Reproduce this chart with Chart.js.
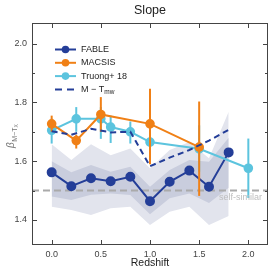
<!DOCTYPE html>
<html>
<head>
<meta charset="utf-8">
<script src="https://cdn.jsdelivr.net/npm/chart.js@4/dist/chart.umd.min.js"></script>
<style>
  html, body { margin: 0; padding: 0; background: #fff; }
  #wrap { width: 274px; height: 274px; }
</style>
</head>
<body>
<div id="wrap"><canvas id="slopeChart" width="274" height="274"></canvas></div>
<script>
// FABLE snapshots
var fableZ = [0.0, 0.2, 0.4, 0.6, 0.8, 1.0, 1.2, 1.4, 1.6, 1.8];
var fableSlope = [1.562, 1.515, 1.542, 1.532, 1.547, 1.464, 1.530, 1.568, 1.513, 1.630];
var fableOuterHi = [1.658, 1.604, 1.658, 1.620, 1.643, 1.576, 1.638, 1.665, 1.610, 1.768];
var fableOuterLo = [1.445, 1.434, 1.417, 1.440, 1.445, 1.383, 1.428, 1.445, 1.383, 1.414];
var fableInnerHi = [1.600, 1.562, 1.587, 1.564, 1.581, 1.513, 1.570, 1.604, 1.598, 1.680];
var fableInnerLo = [1.480, 1.468, 1.486, 1.490, 1.485, 1.420, 1.474, 1.490, 1.458, 1.510];

// mass-weighted temperature relation
var mwSlope = [1.702, 1.690, 1.710, 1.698, 1.700, 1.583, 1.612, 1.638, 1.670, 1.707];

// MACSIS
var macsisZ = [0.0, 0.25, 0.5, 1.0, 1.5];
var macsisSlope = [1.727, 1.670, 1.759, 1.727, 1.648];
var macsisLo = [1.700, 1.643, 1.700, 1.590, 1.482];
var macsisHi = [1.755, 1.690, 1.818, 1.846, 1.803];

// Truong+ 18
var truongZ = [0.0, 0.25, 0.5, 0.6, 0.8, 1.0, 1.5, 2.0];
var truongSlope = [1.705, 1.744, 1.744, 1.716, 1.700, 1.665, 1.642, 1.576];
var truongLo = [1.660, 1.700, 1.676, 1.662, 1.660, 1.592, 1.564, 1.475];
var truongHi = [1.745, 1.784, 1.784, 1.755, 1.735, 1.730, 1.722, 1.677];

var selfSimilar = 1.5;
var xTicks = [0.0, 0.5, 1.0, 1.5, 2.0];
var yTicks = [1.4, 1.6, 1.8, 2.0];
var yMinor = [1.5, 1.7, 1.9];

var BLUE = 'rgb(36,62,152)';
var ORANGE = 'rgb(240,128,22)';
var CYAN = 'rgb(92,196,222)';
var FONT = '"Liberation Sans", Arial, sans-serif';

function pts(xs, ys) {
  return xs.map(function (x, i) { return { x: x, y: ys[i] }; });
}

var datasets = [
  { data: pts(fableZ, fableOuterHi), fill: '+1', backgroundColor: 'rgb(226,228,237)', borderWidth: 0, pointRadius: 0, order: 20 },
  { data: pts(fableZ, fableOuterLo), fill: false, borderWidth: 0, pointRadius: 0, order: 20 },
  { data: pts(fableZ, fableInnerHi), fill: '+1', backgroundColor: 'rgb(201,205,221)', borderWidth: 0, pointRadius: 0, order: 19 },
  { data: pts(fableZ, fableInnerLo), fill: false, borderWidth: 0, pointRadius: 0, order: 19 },
  { data: [{ x: -0.2, y: selfSimilar }, { x: 2.2, y: selfSimilar }], borderColor: 'rgb(170,170,170)', borderWidth: 2, borderDash: [7, 4], pointRadius: 0, fill: false, order: 18 },
  { data: pts(fableZ, fableSlope), borderColor: BLUE, backgroundColor: BLUE, borderWidth: 2, pointRadius: 4, fill: false, order: 5 },
  { data: pts(truongZ, truongSlope), borderColor: CYAN, backgroundColor: CYAN, borderWidth: 2, pointRadius: 3.8, fill: false, order: 4,
    errLo: truongLo, errHi: truongHi },
  { data: pts(macsisZ, macsisSlope), borderColor: ORANGE, backgroundColor: ORANGE, borderWidth: 2, pointRadius: 3.8, fill: false, order: 3,
    errLo: macsisLo, errHi: macsisHi },
  { data: pts(fableZ, mwSlope), borderColor: BLUE, borderWidth: 2, borderDash: [6, 4], pointRadius: 0, fill: false, order: 2 }
];

var legendItems = [
  { text: 'FABLE', color: BLUE, marker: true },
  { text: 'MACSIS', color: ORANGE, marker: true },
  { text: 'Truong+ 18', color: CYAN, marker: true },
  { text: 'M \u2212 T', sub: 'mw', color: BLUE, dashed: true }
];

var decor = {
  id: 'decor',
  beforeDatasetDraw: function (chart, args) {
    var ds = chart.data.datasets[args.index];
    if (!ds.errLo) return;
    var ctx = chart.ctx, xs = chart.scales.x, ys = chart.scales.y;
    ctx.save();
    ctx.strokeStyle = ds.borderColor;
    ctx.lineWidth = 2;
    ds.data.forEach(function (p, i) {
      var px = xs.getPixelForValue(p.x);
      ctx.beginPath();
      ctx.moveTo(px, ys.getPixelForValue(ds.errLo[i]));
      ctx.lineTo(px, ys.getPixelForValue(ds.errHi[i]));
      ctx.stroke();
    });
    ctx.restore();
  },
  afterDraw: function (chart) {
    var ctx = chart.ctx, a = chart.chartArea, xs = chart.scales.x, ys = chart.scales.y;
    ctx.save();
    // frame and inward ticks
    ctx.strokeStyle = '#444';
    ctx.lineWidth = 1;
    ctx.strokeRect(a.left + 0.5, a.top + 0.5, a.right - a.left - 1, a.bottom - a.top - 1);
    ctx.beginPath();
    xTicks.forEach(function (v) {
      var px = Math.round(xs.getPixelForValue(v)) + 0.5;
      ctx.moveTo(px, a.bottom); ctx.lineTo(px, a.bottom - 5);
      ctx.moveTo(px, a.top); ctx.lineTo(px, a.top + 5);
    });
    yTicks.forEach(function (v) {
      var py = Math.round(ys.getPixelForValue(v)) + 0.5;
      ctx.moveTo(a.left, py); ctx.lineTo(a.left + 5, py);
      ctx.moveTo(a.right, py); ctx.lineTo(a.right - 5, py);
    });
    yMinor.forEach(function (v) {
      var py = Math.round(ys.getPixelForValue(v)) + 0.5;
      ctx.moveTo(a.left, py); ctx.lineTo(a.left + 3, py);
      ctx.moveTo(a.right, py); ctx.lineTo(a.right - 3, py);
    });
    ctx.stroke();

    // title and axis labels
    ctx.fillStyle = '#222';
    ctx.textAlign = 'center';
    ctx.textBaseline = 'middle';
    ctx.font = '12.5px ' + FONT;
    ctx.fillText('Slope', (a.left + a.right) / 2, 11);
    ctx.font = '10.5px ' + FONT;
    ctx.fillText('Redshift', (a.left + a.right) / 2, 263);

    // y label: beta_{M-T_X}
    ctx.save();
    ctx.translate(14, 148);
    ctx.rotate(-Math.PI / 2);
    ctx.fillStyle = '#777';
    ctx.textAlign = 'left';
    ctx.textBaseline = 'alphabetic';
    ctx.font = 'italic 10px ' + FONT;
    ctx.fillText('\u03b2', 0, 0);
    var bw = ctx.measureText('\u03b2').width;
    ctx.font = '7px ' + FONT;
    ctx.fillText('M\u2212T', bw + 0.5, 2.5);
    var sw = ctx.measureText('M\u2212T').width;
    ctx.font = '5px ' + FONT;
    ctx.fillText('X', bw + 0.5 + sw, 4);
    ctx.restore();

    // self-similar label
    ctx.fillStyle = 'rgb(190,190,190)';
    ctx.textAlign = 'right';
    ctx.font = '9px ' + FONT;
    ctx.fillText('self-similar', 262, 198);

    // legend
    ctx.textAlign = 'left';
    legendItems.forEach(function (it, i) {
      var y = 49.5 + i * 13.3;
      ctx.strokeStyle = it.color;
      ctx.lineWidth = 2;
      ctx.setLineDash(it.dashed ? [7, 5] : []);
      ctx.beginPath();
      ctx.moveTo(55, y); ctx.lineTo(76, y);
      ctx.stroke();
      ctx.setLineDash([]);
      if (it.marker) {
        ctx.fillStyle = it.color;
        ctx.beginPath();
        ctx.arc(65.5, y, 3.8, 0, Math.PI * 2);
        ctx.fill();
      }
      ctx.fillStyle = '#222';
      ctx.font = '9px ' + FONT;
      ctx.fillText(it.text, 81, y);
      if (it.sub) {
        var w = ctx.measureText(it.text).width;
        ctx.font = '6.5px ' + FONT;
        ctx.fillText(it.sub, 81 + w, y + 3);
      }
    });
    ctx.restore();
  }
};

var ctx = document.getElementById('slopeChart').getContext('2d');
var chart = new Chart(ctx, {
  type: 'line',
  data: { datasets: datasets },
  options: {
    responsive: false,
    animation: false,
    layout: { padding: { top: 23, right: 5, left: 0, bottom: 0 } },
    plugins: { legend: { display: false }, tooltip: { enabled: false }, title: { display: false } },
    elements: { line: { tension: 0 } },
    scales: {
      x: {
        type: 'linear', min: -0.2, max: 2.2,
        grid: { display: false, drawTicks: false }, border: { display: false },
        afterBuildTicks: function (s) { s.ticks = xTicks.map(function (v) { return { value: v }; }); },
        afterFit: function (s) { s.height = 29; },
        ticks: { padding: 4, color: '#444', font: { size: 9, family: FONT },
          callback: function (v) { return Number(v).toFixed(1); } }
      },
      y: {
        type: 'linear', min: 1.315, max: 2.07,
        grid: { display: false, drawTicks: false }, border: { display: false },
        afterBuildTicks: function (s) { s.ticks = yTicks.map(function (v) { return { value: v }; }); },
        afterFit: function (s) { s.width = 32; },
        ticks: { padding: 5, color: '#444', font: { size: 9, family: FONT },
          callback: function (v) { return Number(v).toFixed(1); } }
      }
    }
  },
  plugins: [decor]
});
</script>
</body>
</html>
